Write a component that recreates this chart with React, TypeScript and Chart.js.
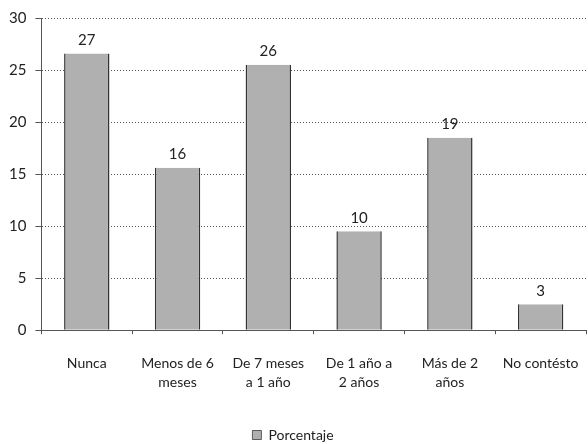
import React, { useEffect, useRef } from "react";
import { Chart, registerables } from "chart.js";
Chart.register(...registerables);

const categories: (string | string[])[] = [
  "Nunca",
  ["Menos de 6", "meses"],
  ["De 7 meses", "a 1 año"],
  ["De 1 año a", "2 años"],
  ["Más de 2", "años"],
  "No contésto",
];
const values = [26.6, 15.6, 25.5, 9.5, 18.5, 2.5];
const valueLabels = ["27", "16", "26", "10", "19", "3"];
const yTicks = [0, 5, 10, 15, 20, 25, 30];
const seriesName = "Porcentaje";

const FONT = "Lato, 'Open Sans', sans-serif";

const labelPlugin = {
  id: "valueLabels",
  afterLayout(chart: any) {
    const lg = chart.legend;
    if (lg) {
      lg.top += 8;
      lg.bottom += 8;
      if (lg.legendHitBoxes) lg.legendHitBoxes.forEach((b: any) => (b.top += 8));
    }
  },
  afterDatasetsDraw(chart: any) {
    const ctx = chart.ctx;
    const meta = chart.getDatasetMeta(0);
    ctx.save();
    ctx.font = `15px ${FONT}`;
    ctx.fillStyle = "#222";
    ctx.textAlign = "center";
    ctx.textBaseline = "bottom";
    meta.data.forEach((bar: any, i: number) => {
      ctx.fillText(valueLabels[i], bar.x, bar.y - 6);
    });
    ctx.restore();
  },
};

export default function App() {
  const ref = useRef<HTMLCanvasElement>(null);
  useEffect(() => {
    document.body.style.margin = "0";
    const chart = new Chart(ref.current!, {
      type: "bar",
      data: {
        labels: categories,
        datasets: [
          {
            label: seriesName,
            data: values,
            backgroundColor: "#b0b0b0",
            borderColor: "#333",
            borderWidth: { left: 1.5, right: 1.5, top: 0, bottom: 0 } as any,
            barPercentage: 0.5,
            categoryPercentage: 1,
          },
        ],
      },
      options: {
        responsive: false,
        animation: false,
        layout: { padding: { left: 0, right: 2, top: 8, bottom: 0 } },
        scales: {
          x: {
            afterFit: (scale: any) => {
              scale.paddingLeft = 0;
              scale.paddingRight = 0;
            },
            grid: {
              display: true,
              drawOnChartArea: false,
              drawTicks: true,
              tickLength: 4,
              color: "#555",
              offset: true,
            },
            border: { color: "#555", dash: [1, 2] },
            ticks: {
              font: { family: FONT, size: 14, lineHeight: 1.35 },
              color: "#222",
              maxRotation: 0,
              autoSkip: false,
              padding: 20,
            },
          },
          y: {
            min: 0,
            max: 30,
            afterBuildTicks: (axis: any) => {
              axis.ticks = yTicks.map((v) => ({ value: v }));
            },
            grid: {
              color: "#555",
              tickLength: 6,
              drawTicks: true,
            },
            border: { color: "#555", dash: [1, 2] },
            ticks: {
              font: { family: FONT, size: 15 },
              color: "#222",
              padding: 9,
            },
          },
        },
        plugins: {
          legend: {
            position: "bottom",
            labels: {
              font: { family: FONT, size: 14 },
              color: "#222",
              boxWidth: 9,
              boxHeight: 9,
              padding: 8,
            },
          },
          tooltip: { enabled: false },
        },
      } as any,
      plugins: [labelPlugin],
    });
    return () => chart.destroy();
  }, []);
  return <canvas ref={ref} width={588} height={444} style={{ display: "block" }} />;
}
